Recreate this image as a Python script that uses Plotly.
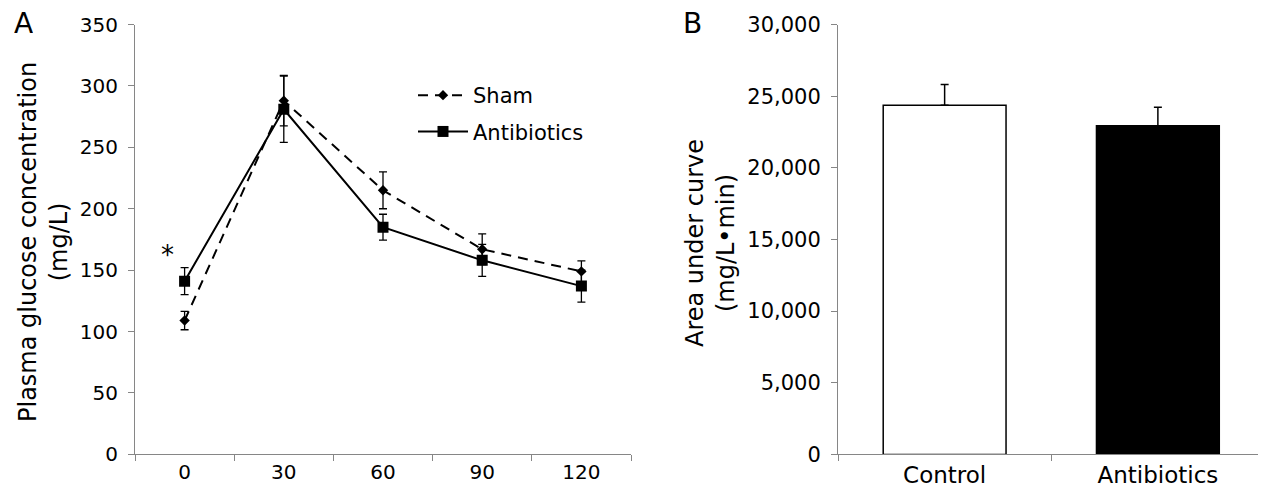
import plotly.graph_objects as go

# ---------------- data ----------------
time_labels = ["0", "30", "60", "90", "120"]
sham_mean = [109, 288, 215, 167, 149]
sham_err = [7.5, 20.5, 15, 12.5, 8.5]
abx_mean = [141, 281, 185, 158, 137]
abx_err = [11, 27, 10.5, 13, 13]

auc_groups = ["Control", "Antibiotics"]
auc_mean = [24360, 22940]
auc_err = [1450, 1280]
auc_colors = ["white", "black"]

# page body has an 8px margin; lay out in window pixels
OFF = 8
FW, FH = 1258, 484
FONT = "DejaVu Sans"

def px(x):
    return (x - OFF) / FW

def py(y):
    return 1 - (y - OFF) / FH

fig = go.Figure()

fig.add_trace(go.Scatter(
    x=time_labels, y=sham_mean, name="Sham", mode="lines+markers", legendgroup="a",
    line=dict(color="black", width=2, dash="10px,7px"),
    marker=dict(symbol="diamond", size=8, color="black"),
    error_y=dict(type="data", array=sham_err, visible=True, color="black", thickness=1.3, width=4),
    xaxis="x", yaxis="y",
))
fig.add_trace(go.Scatter(
    x=time_labels, y=abx_mean, name="Antibiotics", mode="lines+markers", legendgroup="b",
    line=dict(color="black", width=2),
    marker=dict(symbol="square", size=11, color="black"),
    error_y=dict(type="data", array=abx_err, visible=True, color="black", thickness=1.3, width=4),
    xaxis="x", yaxis="y",
))

fig.add_trace(go.Bar(
    x=auc_groups, y=auc_mean, width=0.576, showlegend=False,
    marker=dict(color=auc_colors, line=dict(color="black", width=1.5)),
    error_y=dict(type="data", array=auc_err, arrayminus=[0, 0], symmetric=False,
                 visible=True, color="black", thickness=1.5, width=4),
    xaxis="x2", yaxis="y2",
))

axis_gray = "#868686"
common = dict(showgrid=False, zeroline=False, showline=True, linecolor=axis_gray, linewidth=1,
              ticks="outside", tickcolor=axis_gray, ticklen=6, tickwidth=1,
              tickfont=dict(family=FONT, size=20, color="black"), automargin=False)

ydom = [py(454.4), py(24.5)]

fig.update_layout(
    width=FW, height=FH,
    margin=dict(l=0, r=0, t=0, b=0),
    paper_bgcolor="white", plot_bgcolor="white",
    font=dict(family=FONT, color="black"),
    xaxis=dict(domain=[px(135), px(631)], type="category", range=[-0.5, 4.5],
               tickson="boundaries", anchor="y", **common),
    yaxis=dict(domain=ydom, range=[0, 350], dtick=50, anchor="x", ticklabelstandoff=6, **common),
    xaxis2=dict(domain=[px(838), px(1264.5)], type="category", range=[-0.5, 1.5],
                tickson="boundaries", anchor="y2",
                **{**common, "tickfont": dict(family=FONT, size=23, color="black")}),
    yaxis2=dict(domain=ydom, range=[0, 30000], dtick=5000, tickformat=",", anchor="x2",
                ticklabelstandoff=6,
                **{**common, "tickfont": dict(family=FONT, size=21, color="black")}),
    legend=dict(x=px(413), y=py(75), xanchor="left", yanchor="top",
                font=dict(family=FONT, size=21, color="black"),
                bgcolor="rgba(0,0,0,0)", itemwidth=50,
                traceorder="grouped", tracegroupgap=6),
    showlegend=True,
)

annotations = [
    dict(text="A", x=px(23), y=py(23), font=dict(size=28), height=26, valign="middle"),
    dict(text="B", x=px(692.5), y=py(23), font=dict(size=28), height=26, valign="middle"),
    dict(text="*", x=px(167), y=py(255), font=dict(size=26)),
    dict(text="Plasma glucose concentration<br>(mg/L)", x=px(43), y=py(242), textangle=-90,
         font=dict(size=24)),
    dict(text="Area under curve<br>(mg/L•min)", x=px(710), y=py(243), textangle=-90,
         font=dict(size=24)),
]
for a in annotations:
    a.update(xref="paper", yref="paper", showarrow=False, xanchor="center", yanchor="middle")
    a["font"] = dict(family=FONT, color="black", **a["font"])
fig.update_layout(annotations=annotations)

fig.write_html("out.html")
